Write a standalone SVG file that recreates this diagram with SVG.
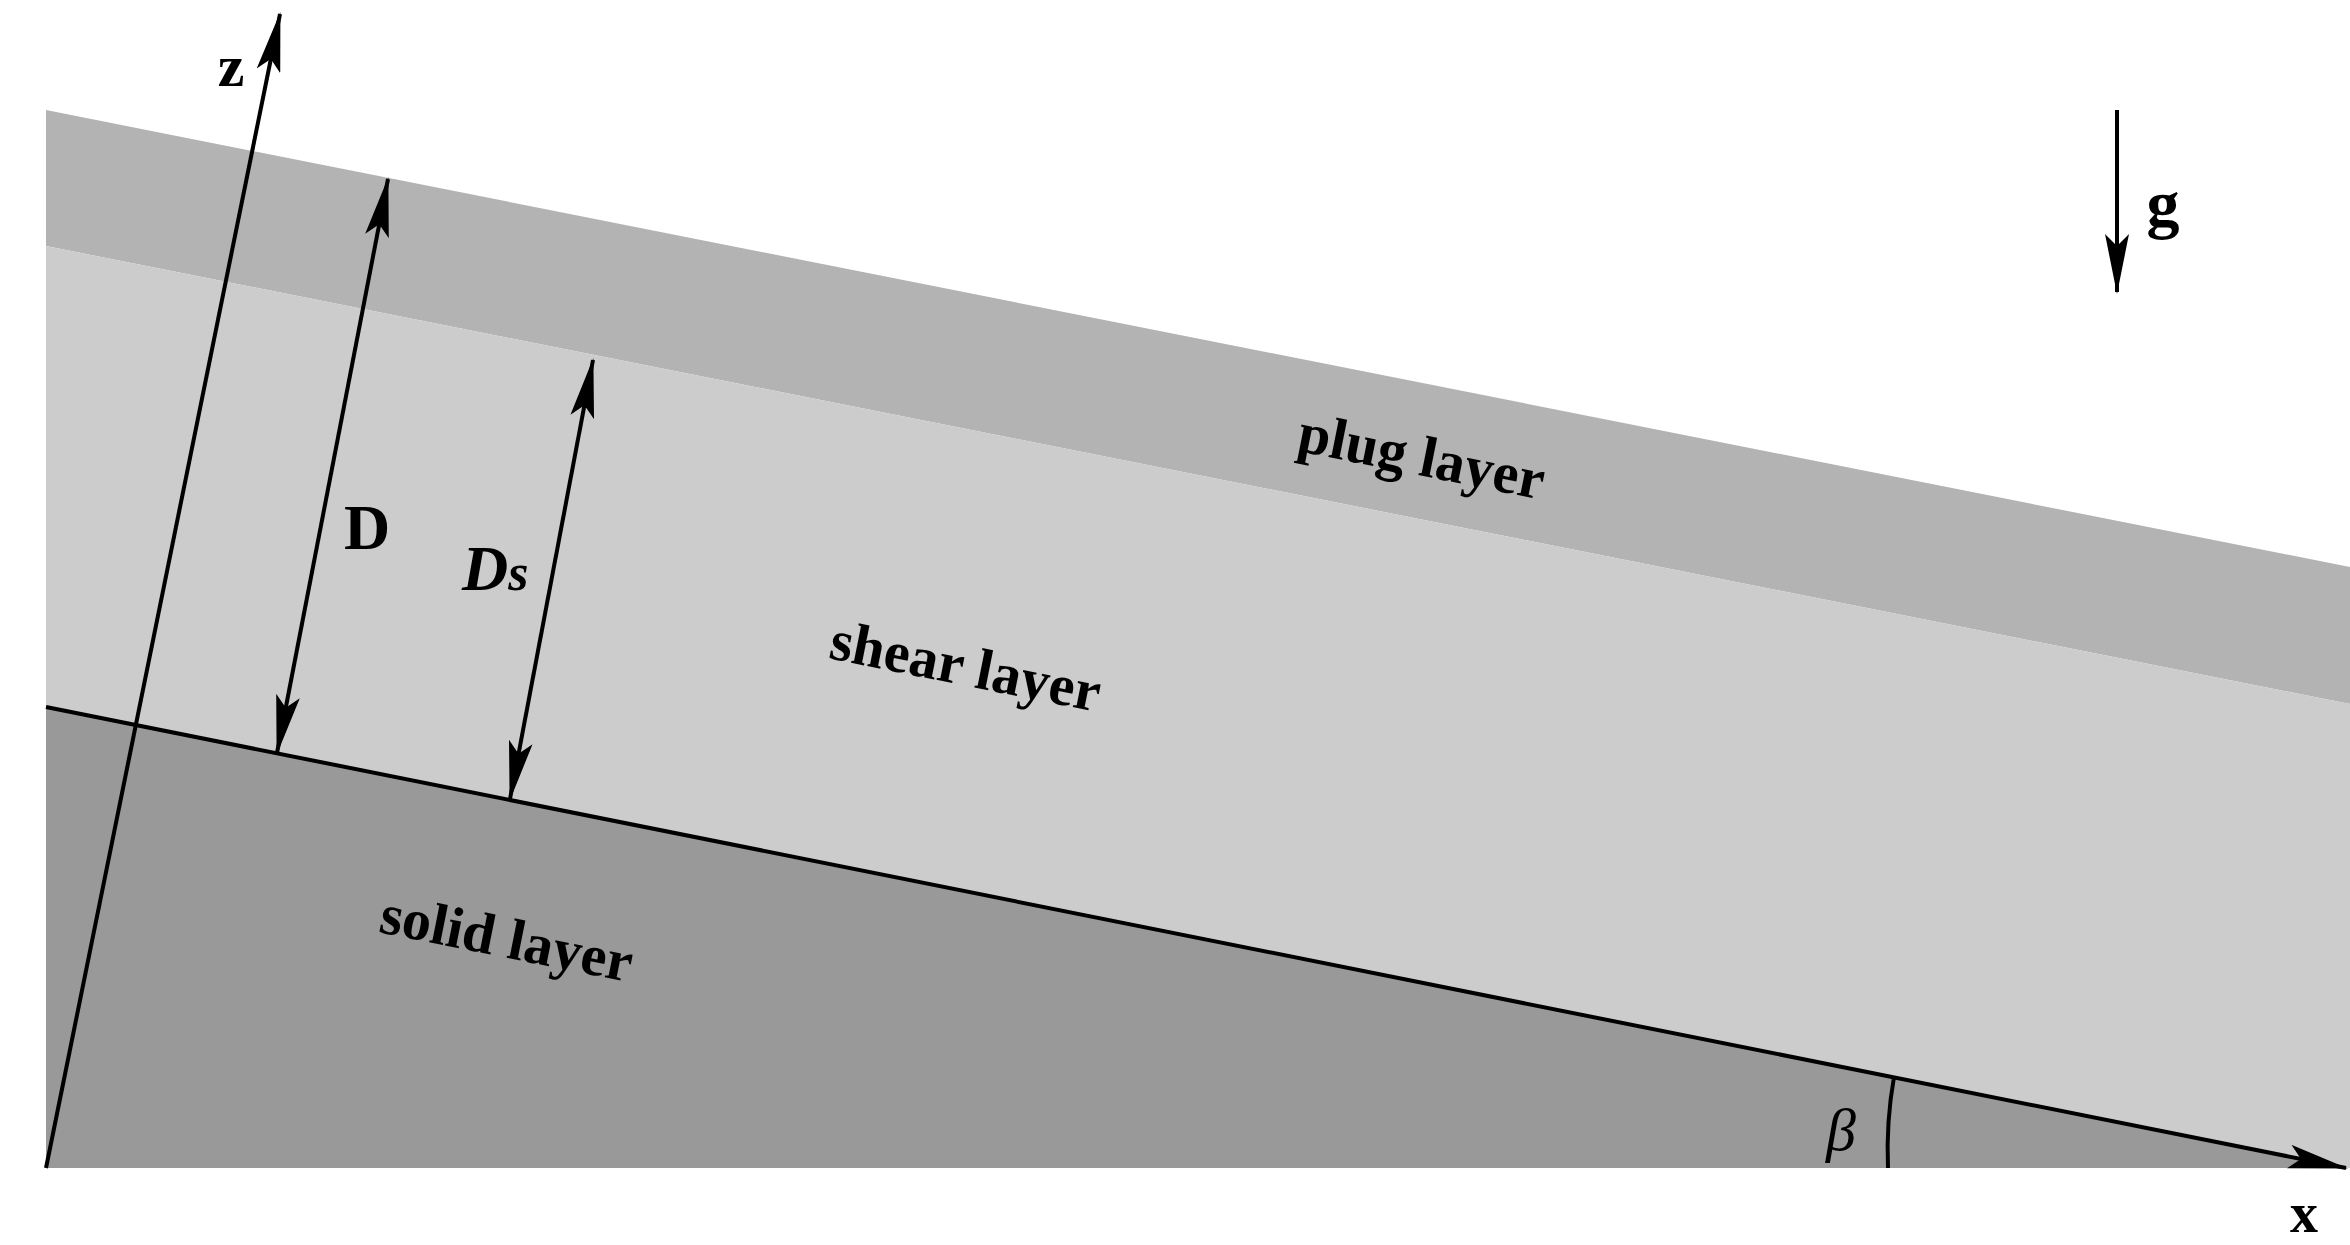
<svg xmlns="http://www.w3.org/2000/svg" width="2350" height="1245" viewBox="0 0 2350 1245">
<style>
.ln{stroke:#000;stroke-width:4;fill:none}
.lbl{font-family:"Liberation Serif",serif;font-weight:bold;fill:#000}
</style>
<defs>
<marker id="ah" viewBox="0 0 60 24" refX="58" refY="12" markerWidth="60" markerHeight="24" markerUnits="userSpaceOnUse" orient="auto-start-reverse">
<path d="M0,0 L60,12 L0,24 L12,12 Z" fill="#000"/>
</marker>
</defs>
<rect width="2350" height="1245" fill="#fff"/>
<g id="plug"><polygon points="46,110 2350,567 2350,704 46,246" fill="#b3b3b3"/>
<text class="lbl" font-size="58" transform="translate(1418,475) rotate(11.3)" text-anchor="middle">plug layer</text></g>
<g id="shear"><polygon points="46,246 2350,704 2350,1168 46,1168" fill="#cccccc"/>
<text class="lbl" font-size="58" transform="translate(962,685) rotate(11.3)" text-anchor="middle">shear layer</text></g>
<g id="solid"><polygon points="46,707 2342,1168 46,1168" fill="#999999"/>
<text class="lbl" font-size="58" transform="translate(503,957) rotate(11.3)" text-anchor="middle">solid layer</text></g>
<g id="connectors">
<line class="ln" x1="46" y1="1168" x2="280" y2="14" marker-end="url(#ah)"/>
<line class="ln" x1="46" y1="707" x2="2346" y2="1168" marker-end="url(#ah)"/>
<line class="ln" x1="388" y1="179" x2="277" y2="753" marker-start="url(#ah)" marker-end="url(#ah)"/>
<line class="ln" x1="593" y1="360" x2="510" y2="799" marker-start="url(#ah)" marker-end="url(#ah)"/>
<line class="ln" x1="2117" y1="110" x2="2117" y2="292" marker-end="url(#ah)"/>
<path class="ln" d="M1894,1077 Q1886,1122 1888,1168"/>
</g>
<g id="labels">
<text class="lbl" font-size="60" x="231" y="86" text-anchor="middle">z</text>
<text class="lbl" font-size="56" x="2304" y="1232" text-anchor="middle">x</text>
<text class="lbl" font-size="66" x="2163" y="226" text-anchor="middle">g</text>
<text class="lbl" font-size="64" x="367" y="549" text-anchor="middle">D</text>
<text class="lbl" font-size="64" x="462" y="590" font-style="italic">D<tspan font-size="52">s</tspan></text>
<text font-family="Liberation Serif,serif" font-style="italic" font-size="60" x="1841" y="1150" text-anchor="middle">β</text>
</g>
</svg>
